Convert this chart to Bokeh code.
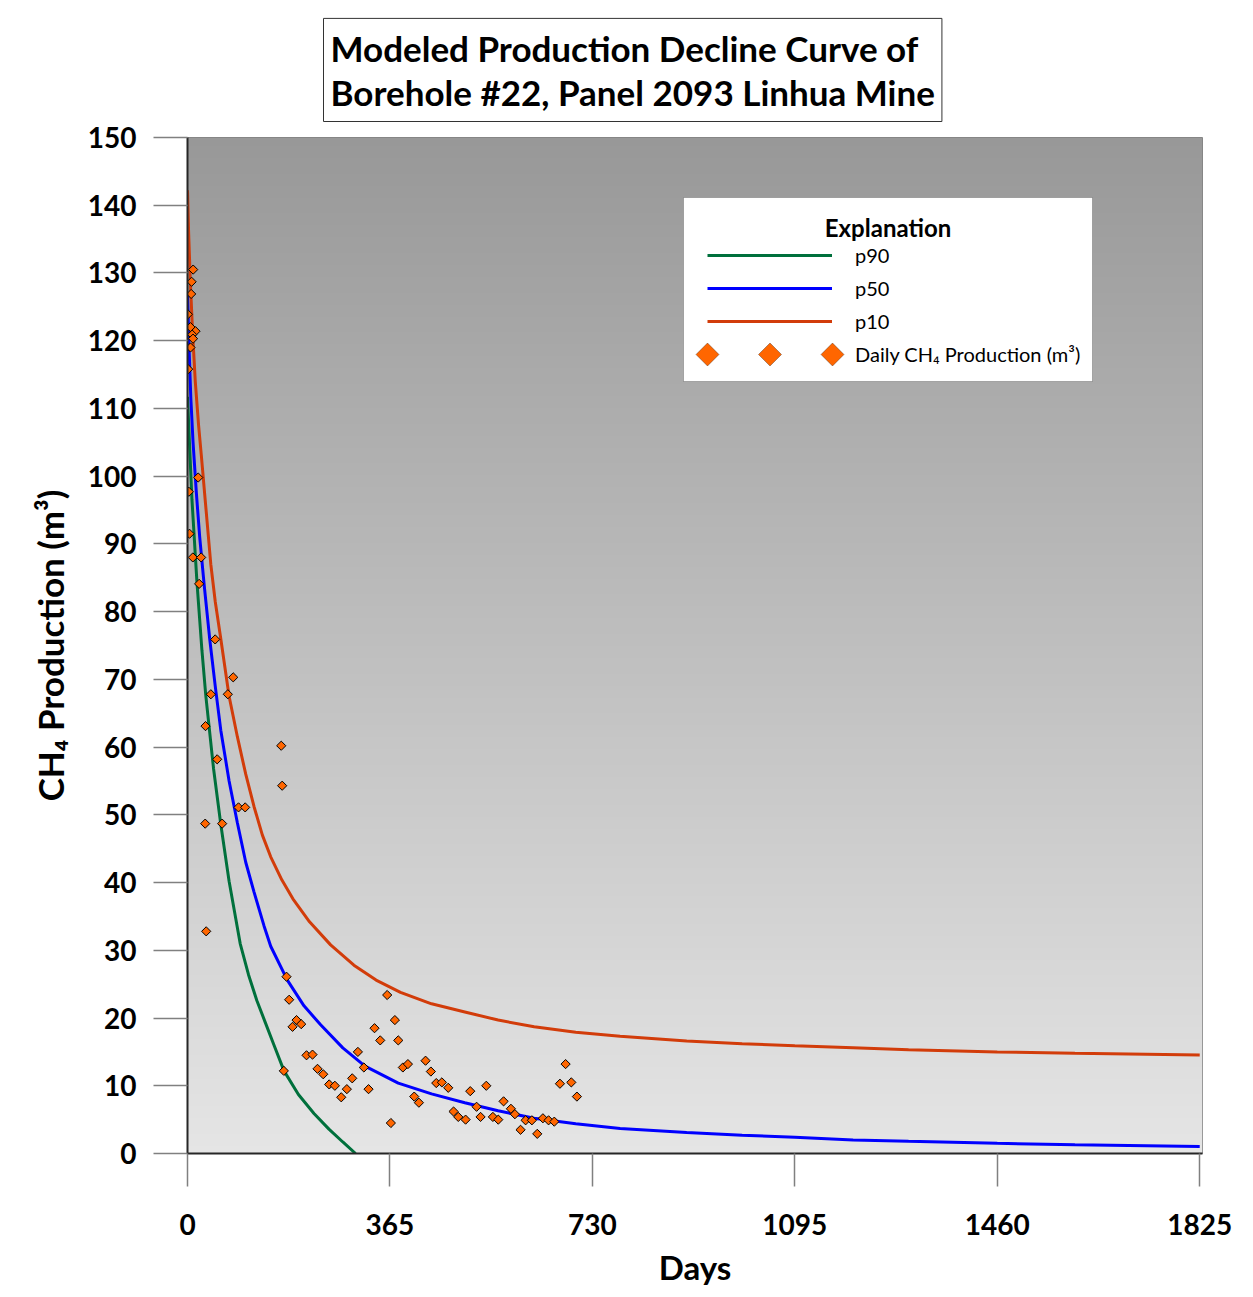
import numpy as np
from bokeh.plotting import figure
from bokeh.models import (Range1d, FixedTicker, Legend, LegendItem, Label,
                          BoxAnnotation, PolyAnnotation)
from bokeh.embed import file_html
from bokeh.resources import INLINE

# ---------------- data ----------------
title_text = "Modeled Production Decline Curve of\nBorehole #22, Panel 2093 Linhua Mine"
x_label = "Days"
y_label = "CH\u2084 Production (m\u00b3)"
legend_title = "Explanation"
x_ticks = [0, 365, 730, 1095, 1460, 1825]
y_ticks = [0, 10, 20, 30, 40, 50, 60, 70, 80, 90, 100, 110, 120, 130, 140, 150]

p90_days = [0, 4, 8, 17, 26, 33, 47, 60, 75, 95, 110, 125, 140, 155, 174, 200, 228, 255, 280, 303]
p90_ch4 = [111.7, 104.0, 96.6, 84.4, 74.3, 67.6, 56.8, 48.6, 40.2, 31.0, 26.4, 22.6, 19.4, 16.2,
           12.2, 8.7, 5.9, 3.6, 1.7, 0.0]

p50_days = [0, 3, 6, 10, 16, 22, 30, 40, 50, 60, 75, 90, 105, 120, 138, 150, 180, 210, 240, 280,
            320, 380, 440, 500, 560, 625, 700, 780, 900, 1000, 1095, 1200, 1300, 1460, 1600, 1825]
p50_ch4 = [127.0, 118.5, 111.5, 105.0, 97.5, 91.0, 84.0, 76.0, 69.0, 62.5, 55.0, 48.8, 43.0, 38.6,
           33.6, 30.6, 25.6, 21.8, 19.0, 15.6, 12.9, 10.4, 8.8, 7.5, 6.3, 5.2, 4.4, 3.7, 3.1, 2.7,
           2.4, 2.0, 1.8, 1.5, 1.3, 1.05]

p10_days = [0, 2, 5, 9, 14, 20, 25, 32, 42, 50, 60, 75, 90, 105, 120, 135, 150, 170, 190, 220,
            258, 300, 340, 384, 440, 500, 560, 625, 700, 780, 900, 1000, 1095, 1200, 1300, 1460,
            1600, 1825]
p10_ch4 = [142.2, 136.0, 129.0, 121.5, 114.0, 107.5, 103.0, 96.4, 87.0, 81.5, 76.0, 67.5, 61.5,
           56.0, 51.2, 47.0, 43.8, 40.4, 37.6, 34.2, 30.8, 27.8, 25.6, 23.8, 22.1, 20.9, 19.7,
           18.7, 17.9, 17.3, 16.6, 16.2, 15.9, 15.6, 15.3, 15.0, 14.8, 14.55]

obs_days = [10.2, 7.4, 6.6, 0.6, 5.4, 14.4, 8.4, 10.0, 5.4, 1.2,
            19.3, 2.4, 3.6, 9.6, 24.6, 21.0, 49.9, 82.4, 42.1, 72.7,
            32.5, 53.5, 169.0, 170.7, 92.0, 104.0, 31.9, 62.5, 33.7,
            178.5, 183.3, 196.6, 205.0, 189.4, 173.7, 214.6, 225.4, 234.4, 244.7,
            255.5, 265.7, 287.3, 277.2, 297.0, 307.2, 318.0, 326.4, 360.0, 337.2,
            347.5, 373.9, 380.0, 388.3, 397.4, 366.7, 408.8, 417.2,
            429.2, 438.8, 448.5, 458.6, 470.1, 509.8, 538.7, 479.7, 488.2, 501.4,
            521.2, 528.4, 550.6, 560.3, 569.9, 583.1, 590.3, 600.5, 609.6, 620.9,
            630.6, 640.8, 651.0, 661.3, 681.7, 671.5, 692.0, 702.1]
obs_ch4 = [130.5, 128.7, 126.9, 123.9, 122.0, 121.4, 120.9, 120.3, 119.0, 115.8,
           99.8, 97.7, 91.5, 88.0, 88.0, 84.1, 75.9, 70.3, 67.8, 67.8,
           63.1, 58.2, 60.2, 54.3, 51.1, 51.1, 48.7, 48.7, 32.8,
           26.1, 22.7, 19.7, 19.1, 18.7, 12.2, 14.5, 14.6, 12.5, 11.7,
           10.2, 10.0, 9.5, 8.3, 11.1, 15.0, 12.7, 9.5, 23.4, 18.5,
           16.7, 19.7, 16.7, 12.7, 13.2, 4.5, 8.4, 7.5,
           13.7, 12.1, 10.4, 10.5, 9.7, 9.2, 10.0, 6.2, 5.4, 5.0,
           6.9, 5.4, 5.4, 5.0, 7.7, 6.6, 5.8, 3.5, 4.9, 4.9,
           2.9, 5.2, 4.9, 4.7, 13.2, 10.3, 10.5, 8.4]

# ---------------- styles ----------------
FONT = "Lato"
GREEN = "#00703C"
BLUE = "#0000FF"
RED = "#D23C0A"
ORANGE = "#FF6600"

X_MAX = 1830
Y_MAX = 150

p = figure(frame_width=1015, frame_height=1016,
           min_border_left=187, min_border_right=51,
           min_border_top=137, min_border_bottom=144,
           x_range=Range1d(0, X_MAX), y_range=Range1d(0, Y_MAX),
           output_backend="svg", toolbar_location=None,
           background_fill_color="white", border_fill_color="white",
           outline_line_color="#808080", outline_line_width=1)
p.grid.visible = False

# title box
p.title.text = title_text
p.title.align = "left"
p.title.offset = 136
p.title.standoff = 32
p.title.text_font = FONT
p.title.text_font_style = "bold"
p.title.text_font_size = "35px"
p.title.text_line_height = 1.05
p.title.text_color = "black"
p.title.border_line_color = "#333333"
p.title.border_line_width = 1
p.title.background_fill_color = "white"
p.title.padding = dict(left=7, right=7, top=9, bottom=8)

# gradient background of the plot area
n = 256
shade = np.round(np.linspace(229, 152, n)).astype(np.uint8)
img = np.empty((n, 1), dtype=np.uint32)
view = img.view(dtype=np.uint8).reshape((n, 1, 4))
view[:, 0, 0] = shade
view[:, 0, 1] = shade
view[:, 0, 2] = shade
view[:, 0, 3] = 255
p.image_rgba(image=[img], x=0, y=0, dw=X_MAX, dh=Y_MAX)

r90 = p.line(p90_days, p90_ch4, line_color=GREEN, line_width=3)
r50 = p.line(p50_days, p50_ch4, line_color=BLUE, line_width=3)
r10 = p.line(p10_days, p10_ch4, line_color=RED, line_width=3)
rpts = p.scatter(obs_days, obs_ch4, marker="square", angle=np.pi / 4, size=6.5,
                 fill_color=ORANGE, line_color="black", line_width=1)
# invisible stand-in used only by the legend entry (its diamonds are drawn below)
rpts_key = p.scatter(x=[], y=[], marker="square", size=6.5,
                     fill_color=ORANGE, line_color="black", fill_alpha=0, line_alpha=0)

# axes
for ax in (p.xaxis[0], p.yaxis[0]):
    ax.major_label_text_font = FONT
    ax.major_label_text_font_style = "bold"
    ax.major_label_text_font_size = "28px"
    ax.major_label_text_color = "black"
    ax.axis_label_text_font = FONT
    ax.axis_label_text_font_style = "bold"
    ax.axis_label_text_color = "black"
    ax.minor_tick_line_color = None
    ax.major_tick_in = 0
    ax.major_tick_line_color = "#808080"
    ax.major_tick_line_width = 1.5
    ax.axis_line_color = "#262626"
    ax.axis_line_width = 2

p.xaxis.ticker = FixedTicker(ticks=x_ticks)
p.xaxis.major_tick_out = 33
p.xaxis.major_label_standoff = 27
p.xaxis.axis_label = x_label
p.xaxis.axis_label_text_font_size = "33px"
p.xaxis.axis_label_standoff = 9

p.yaxis.ticker = FixedTicker(ticks=y_ticks)
p.yaxis.major_tick_out = 34
p.yaxis.major_label_standoff = 17
p.yaxis.axis_label = y_label
p.yaxis.axis_label_text_font_size = "35px"
p.yaxis.axis_label_standoff = 14

# legend box
p.add_layout(BoxAnnotation(left=496, right=905, top=956, bottom=772,
                           left_units="screen", right_units="screen",
                           top_units="screen", bottom_units="screen",
                           fill_color="white", fill_alpha=1.0,
                           line_color="#333333", line_width=1))
p.add_layout(Label(x=700.5, y=926, x_units="screen", y_units="screen",
                   text=legend_title, text_font=FONT, text_font_style="bold",
                   text_font_size="24px", text_align="center", text_baseline="middle",
                   text_color="black"))

legend = Legend(items=[LegendItem(label="p90", renderers=[r90]),
                       LegendItem(label="p50", renderers=[r50]),
                       LegendItem(label="p10", renderers=[r10]),
                       LegendItem(label="Daily CH\u2084 Production (m\u00b3)", renderers=[rpts_key])],
                location=(520, 787), orientation="vertical",
                padding=0, margin=0, spacing=9,
                glyph_width=125, glyph_height=24, label_height=24, label_standoff=23,
                label_text_font=FONT, label_text_font_size="20px", label_text_color="black",
                background_fill_alpha=0, border_line_alpha=0)
p.add_layout(legend)

# legend markers (three diamonds as in the original legend)
for cx in (520, 582.5, 645):
    p.add_layout(PolyAnnotation(xs=[cx - 11.5, cx, cx + 11.5, cx],
                                ys=[799, 810.5, 799, 787.5],
                                xs_units="screen", ys_units="screen",
                                fill_color=ORANGE, fill_alpha=1.0,
                                line_color="black", line_width=1, level="overlay"))

open("out.html", "w").write(file_html(p, INLINE))
